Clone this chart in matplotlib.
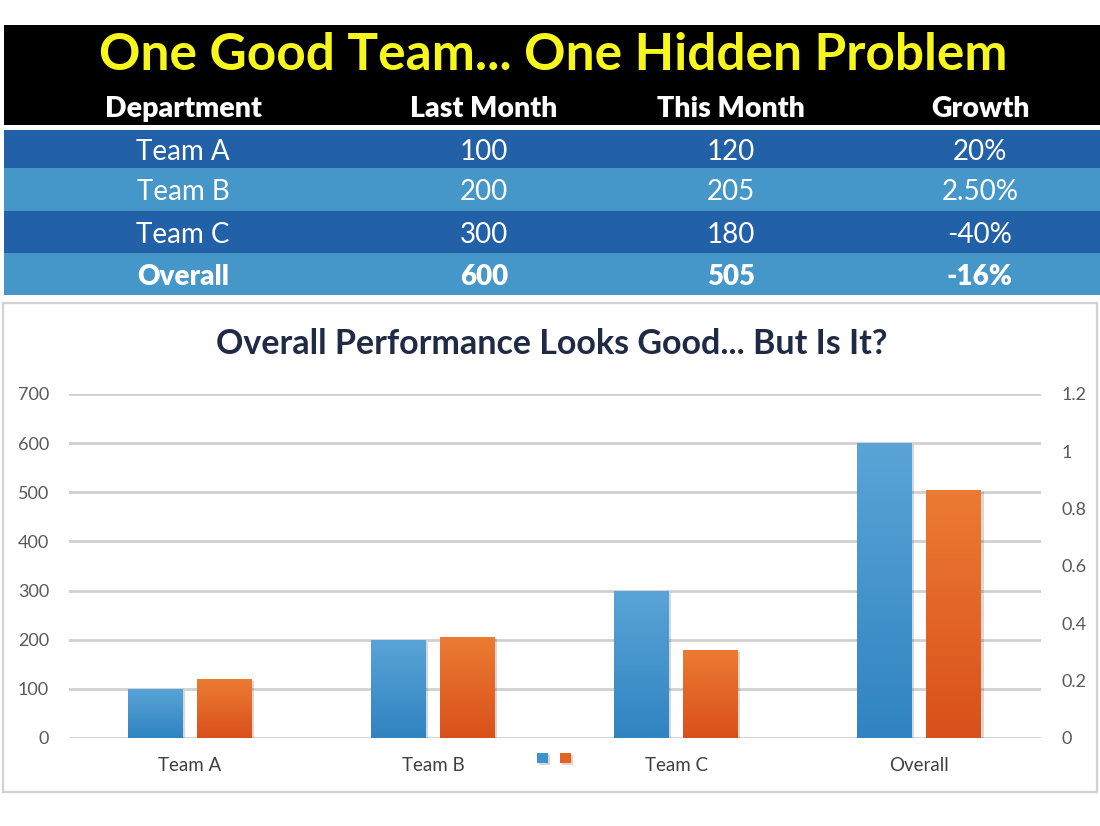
import matplotlib
matplotlib.use("Agg")
import matplotlib.pyplot as plt
import numpy as np
from matplotlib.colors import LinearSegmentedColormap
from matplotlib.patches import Rectangle
from matplotlib import patheffects

plt.rcParams["font.family"] = ["Lato", "DejaVu Sans"]

# table data
headers = ["Department", "Last Month", "This Month", "Growth"]
departments = ["Team A", "Team B", "Team C", "Overall"]
last_month = [100, 200, 300, 600]
this_month = [120, 205, 180, 505]
growth = ["20%", "2.50%", "-40%", "-16%"]

# chart data
categories = ["Team A", "Team B", "Team C", "Overall"]
series_last = [100, 200, 300, 600]
series_this = [120, 205, 180, 505]
left_ticks = [0, 100, 200, 300, 400, 500, 600, 700]
right_ticks = [0, 0.2, 0.4, 0.6, 0.8, 1.0, 1.2]

W, H = 1100, 826
fig = plt.figure(figsize=(11, 8.26), dpi=100)

# background layer in pixel coordinates (table + panel border)
bg = fig.add_axes([0, 0, 1, 1])
bg.set_xlim(0, W)
bg.set_ylim(H, 0)
bg.axis("off")

bg.add_patch(Rectangle((4, 25), W - 4, 100, facecolor="black", edgecolor="none"))
bg.text(553, 56, "One Good Team... One Hidden Problem", color="#f7f71c",
        fontsize=37, fontweight="bold", ha="center", va="center")

col_x = [183, 484, 731, 980]
for x, h in zip(col_x, headers):
    bg.text(x, 109, h, color="white", fontsize=20.5, fontweight="heavy", ha="center", va="center")

row_edges = [130, 168, 211, 253, 295]
row_colors = ["#2260a8", "#4597c9", "#2260a8", "#4597c9"]
for i in range(len(departments)):
    y0, y1 = row_edges[i], row_edges[i + 1]
    bg.add_patch(Rectangle((4, y0), W - 4, y1 - y0, facecolor=row_colors[i], edgecolor="none"))
    weight = "heavy" if departments[i] == "Overall" else "normal"
    cells = [departments[i], str(last_month[i]), str(this_month[i]), growth[i]]
    for x, c in zip(col_x, cells):
        bg.text(x, (y0 + y1) / 2 + 3, c, color="white", fontsize=20, fontweight=weight,
                ha="center", va="center")

bg.add_patch(Rectangle((3, 303), 1094, 489, facecolor="white", edgecolor="#d2d2d2", linewidth=1.6))
bg.text(552, 344, "Overall Performance Looks Good... But Is It?", color="#1f2a44",
        fontsize=24.5, fontweight="bold", ha="center", va="center")

# chart
ax = fig.add_axes([68.5 / W, (H - 738) / H, (1041 - 68.5) / W, 344 / H])
ax.patch.set_alpha(0)
x = np.arange(len(categories))
bw = 0.226
off = 0.142

blue_cmap = LinearSegmentedColormap.from_list("b", ["#2f84c1", "#5aa4d7"])
orange_cmap = LinearSegmentedColormap.from_list("o", ["#d9501a", "#ec7b33"])

shadow = [patheffects.SimplePatchShadow(offset=(1.5, -1.5), alpha=0.18), patheffects.Normal()]
b1 = ax.bar(x - off, series_last, bw, color="#3f92cc", zorder=3, path_effects=shadow)
b2 = ax.bar(x + off, series_this, bw, color="#e5621f", zorder=3, path_effects=shadow)

grad = np.linspace(0, 1, 256).reshape(-1, 1)
for cont, cmap in [(b1, blue_cmap), (b2, orange_cmap)]:
    for bar in cont:
        bx, by = bar.get_x(), bar.get_y()
        im = ax.imshow(grad, cmap=cmap, origin="lower", aspect="auto", zorder=4,
                       extent=[bx, bx + bar.get_width(), by, by + bar.get_height()])
        im.set_clip_path(bar)

ax.set_xlim(-0.5, len(categories) - 0.5)
ax.set_ylim(0, 700)
ax.set_yticks(left_ticks)
ax.set_xticks(x)
ax.set_xticklabels(categories)
ax.yaxis.grid(True, color="#d0d0d0", linewidth=2, zorder=0)
ax.set_axisbelow(True)
for s in ax.spines.values():
    s.set_visible(False)
ax.tick_params(axis="y", length=0, pad=14, labelsize=13, labelcolor="#595959")
ax.tick_params(axis="x", length=0, pad=14, labelsize=13.5, labelcolor="#404040")

ax2 = ax.twinx()
ax2.set_ylim(0, 1.2)
ax2.set_yticks(right_ticks)
ax2.set_yticklabels(["{:g}".format(v) for v in right_ticks])
for s in ax2.spines.values():
    s.set_visible(False)
ax2.tick_params(axis="y", length=0, pad=15, labelsize=13, labelcolor="#595959")

fig.legend([b1, b2], ["", ""], loc="center", bbox_to_anchor=(554 / W, (H - 759) / H),
           ncol=2, frameon=False, handlelength=0.75, handleheight=0.75,
           handletextpad=0.0, columnspacing=0.9, borderpad=0)

fig.savefig("out.png", dpi=100)
